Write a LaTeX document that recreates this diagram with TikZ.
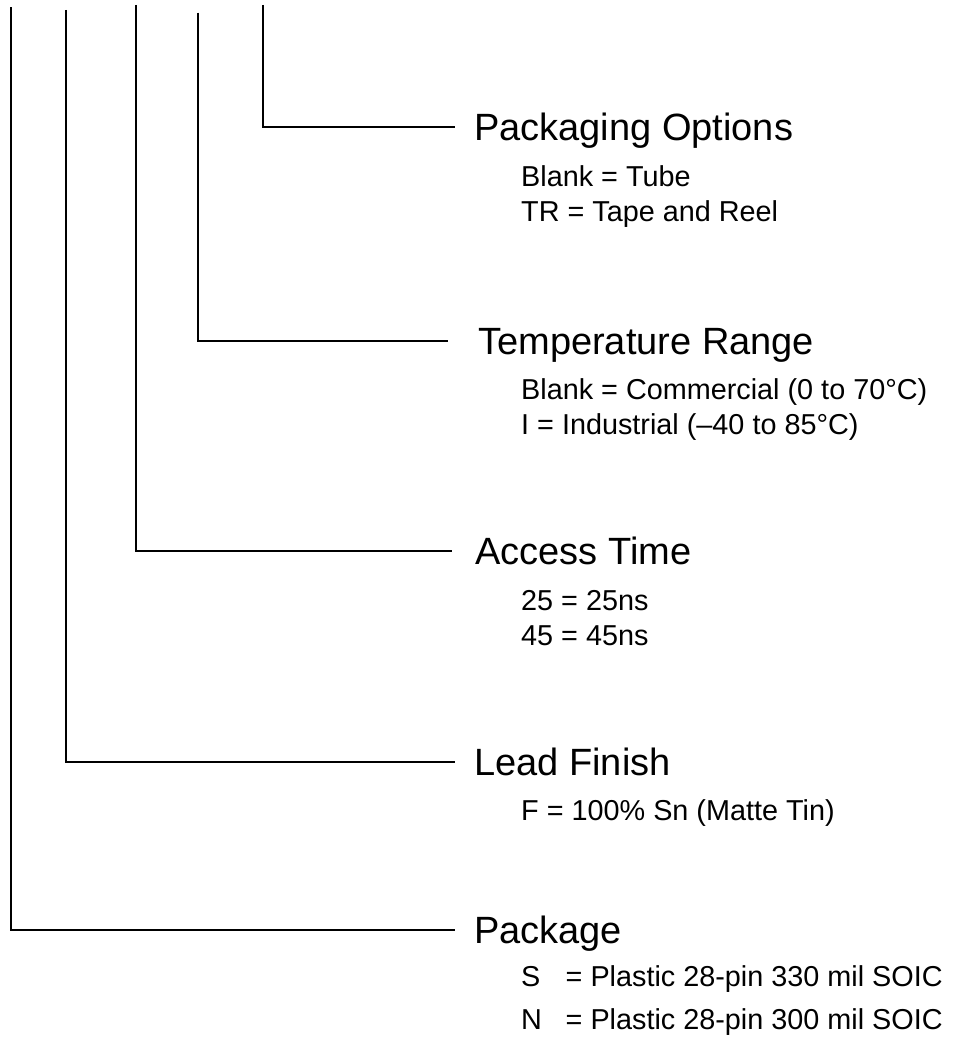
\documentclass[tikz,border=0pt]{standalone}
\usepackage{fontspec}
\setmainfont{Liberation Sans}
\usetikzlibrary{positioning}
\tikzset{
  field/.style={inner sep=0pt, anchor=west, text height=26.6pt, text depth=0pt,
    font=\fontsize{38}{42}\selectfont},
  choice/.style={inner sep=0pt, anchor=base west, font=\fontsize{28.8}{32}\selectfont},
  lead/.style={line width=2pt}
}
\begin{document}
\begin{tikzpicture}[x=1pt,y=-1pt]
\useasboundingbox (0,0) rectangle (954,1038);

\coordinate (pkgtop) at (11,7.3);
\coordinate (fintop) at (65.7,10);
\coordinate (acctop) at (135.7,5);
\coordinate (temptop) at (197.7,12.7);
\coordinate (opttop) at (262.7,5);

\node[field] (opt) at (474,126.7) {Packaging Options};
\node[choice] (opt1) at (521,186.7) {Blank = Tube};
\node[choice] (opt2) at (521,221.7) {TR = Tape and Reel};

\node[field] (temp) at (478,340.7) {Temperature Range};
\node[choice] (temp1) at (521,399) {Blank = Commercial (0 to 70°C)};
\node[choice] (temp2) at (521,434) {I = Industrial (–40 to 85°C)};

\node[field] (acc) at (475,550.7) {Access Time};
\node[choice] (acc1) at (521,610) {25 = 25ns};
\node[choice] (acc2) at (521,645) {45 = 45ns};

\node[field] (fin) at (474,761.7) {Lead Finish};
\node[choice] (fin1) at (521,820.7) {F = 100\% Sn (Matte Tin)};

\node[field] (pkg) at (474,930) {Package};
\node[choice] (pkg1) at (521,986) {\makebox[44.5pt][l]{S}= Plastic 28-pin 330 mil SOIC};
\node[choice] (pkg2) at (521,1029) {\makebox[44.5pt][l]{N}= Plastic 28-pin 300 mil SOIC};

\path[draw,lead,shorten >=19pt] (opttop) |- (opt.west);
\path[draw,lead,shorten >=30pt] (temptop) |- (temp.west);
\path[draw,lead,shorten >=23pt] (acctop) |- (acc.west);
\path[draw,lead,shorten >=19pt] (fintop) |- (fin.west);
\path[draw,lead,shorten >=19pt] (pkgtop) |- (pkg.west);
\end{tikzpicture}
\end{document}
